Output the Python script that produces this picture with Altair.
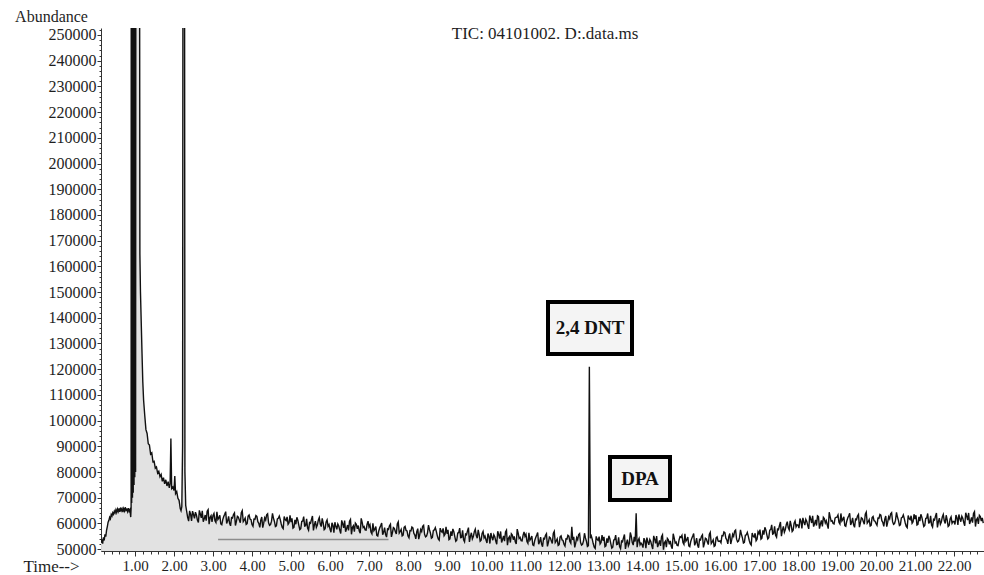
import altair as alt
import pandas as pd

# ---------------- data (abundance values in thousands) ----------------
early_t = [0.13, 0.15, 0.17, 0.19, 0.21, 0.23, 0.25, 0.27, 0.29, 0.31, 0.33, 0.35, 0.37, 0.39,
           0.41, 0.43, 0.45, 0.47, 0.49, 0.51, 0.53, 0.55, 0.57, 0.59, 0.61, 0.63, 0.65, 0.67,
           0.69, 0.71, 0.73, 0.75, 0.77, 0.79, 0.81, 0.83, 0.85, 0.87, 0.89, 0.90,
           0.905, 0.915, 0.925, 0.935, 0.945, 0.955, 0.965, 0.975, 0.985, 0.995, 1.005, 1.015, 1.025,
           1.04, 1.11,
           1.125, 1.14, 1.16, 1.18, 1.20, 1.22, 1.25, 1.28, 1.31, 1.34, 1.37, 1.40, 1.43, 1.46,
           1.49, 1.52, 1.55, 1.58, 1.61, 1.64, 1.67, 1.70, 1.73, 1.76, 1.79, 1.82, 1.85, 1.88,
           1.90, 1.92, 1.94, 1.97, 2.00, 2.02, 2.04, 2.07, 2.10, 2.13, 2.16, 2.18, 2.20, 2.22,
           2.235, 2.265, 2.28, 2.30]
early_k = [52.5, 53.8, 52.2, 54.6, 53.4, 55.8, 54.9, 57.3, 58.8, 60.5, 61.2, 62.4, 61.8, 63.5,
           62.9, 64.2, 63.6, 64.8, 64.1, 65.3, 64.3, 65.6, 64.7, 65.9, 64.5, 66.2, 65.0, 65.7,
           64.4, 65.8, 64.9, 66.3, 65.1, 65.5, 64.6, 66.0, 64.8, 65.4, 62.5, 66.0,
           400, 68, 400, 70, 400, 72, 400, 75, 400, 78, 400, 80, 400,
           400, 400,
           165, 150, 138, 126, 115, 108, 102, 96.5, 95, 91, 90.5, 87, 87.5, 84,
           84.2, 81.5, 82, 79.6, 80.3, 78.2, 79.1, 76.4, 77.8, 75.4, 77, 74.6, 76.3, 73.9,
           75.5, 93, 73.6, 74.2, 72.8, 78.5, 71.6, 72.4, 69.8, 69, 65.8, 65, 66.5, 90,
           400, 400, 80, 67]

# scans every 0.05 min from 2.35
scan_start = 2.35
scan_step = 0.05
scan_k = [
    62.4, 64.9, 61.0, 63.5, 64.4, 61.3, 65.1, 62.2, 60.7, 63.3, 64.8, 59.7, 63.0,
    63.1, 61.1, 64.5, 62.2, 59.8, 61.5, 63.6, 60.0, 62.8, 59.1, 62.1, 64.1, 60.8, 62.5, 60.3, 65.0, 61.3, 59.6, 62.9, 61.7,
    59.6, 61.7, 63.1, 60.7, 58.5, 62.5, 60.1, 61.4, 63.8, 59.3, 60.9, 62.1, 58.8, 61.8, 62.9, 59.8, 58.0, 61.5, 62.6, 60.3,
    60.5, 58.2, 61.4, 62.4, 59.4, 58.0, 60.9, 59.0, 61.8, 57.4, 60.1, 62.9, 59.5, 58.5, 61.3, 59.8, 62.0, 57.6, 60.6, 58.9,
    57.8, 60.3, 56.4, 58.9, 59.8, 57.4, 61.2, 58.3, 56.8, 59.4, 60.9, 55.8, 59.1, 60.2, 57.9, 57.1, 62.0, 58.4, 57.5, 59.6,
    58.7, 56.7, 60.1, 57.8, 55.4, 57.1, 59.2, 55.6, 58.4, 54.7, 57.7, 59.7, 56.4, 58.1, 55.9, 60.6, 56.9, 55.2, 58.5, 57.3,
    55.1, 57.2, 58.6, 56.2, 54.0, 58.0, 55.6, 56.9, 59.3, 54.8, 56.4, 57.6, 54.3, 57.3, 58.4, 55.3, 53.5, 57.0, 58.1, 55.8,
    56.0, 53.7, 56.9, 57.9, 54.9, 53.5, 56.4, 54.5, 57.3, 52.9, 55.6, 58.4, 55.0, 54.0, 56.8, 55.3, 57.5, 53.1, 56.1, 54.4,
    53.6, 56.1, 52.2, 54.7, 55.6, 53.2, 57.0, 54.1, 52.6, 55.2, 56.7, 51.6, 54.9, 56.0, 53.7, 52.9, 57.8, 54.2, 53.3, 55.4,
    55.0, 53.0, 56.4, 54.1, 51.7, 53.4, 55.5, 51.9, 54.7, 51.0, 54.0, 56.0, 52.7, 54.4, 52.2, 56.9, 53.2, 51.5, 54.8, 53.6,
    51.9, 54.0, 55.4, 53.0, 58.7, 54.8, 52.4, 53.7, 56.1, 51.6, 53.2, 54.4, 51.1, 121.0, 55.2, 52.1, 50.3, 53.8, 54.9, 52.6,
    53.3, 51.0, 54.2, 55.2, 52.2, 50.8, 53.7, 51.8, 54.6, 50.2, 52.9, 55.7, 52.3, 51.3, 56.5, 52.6, 54.8, 64.0, 53.4, 51.7,
    51.8, 54.3, 50.4, 52.9, 53.8, 51.4, 55.2, 52.3, 50.8, 53.4, 54.9, 49.8, 53.1, 54.2, 51.9, 51.1, 56.0, 52.4, 51.5, 53.6,
    54.6, 52.6, 56.0, 53.7, 51.3, 53.0, 55.1, 51.5, 54.3, 50.6, 53.6, 55.6, 52.3, 54.0, 51.8, 56.5, 52.8, 51.1, 54.4, 53.2,
    53.2, 55.3, 56.7, 54.3, 52.1, 56.1, 53.7, 55.0, 57.4, 52.9, 54.5, 55.7, 52.4, 55.4, 56.5, 53.4, 51.6, 55.1, 56.2, 53.9,
    56.0, 53.9, 57.3, 58.5, 55.7, 54.5, 57.6, 55.9, 58.9, 54.7, 57.6, 60.6, 57.4, 56.6, 59.6, 58.3, 61.0, 56.9, 60.1, 58.7,
    59.4, 61.9, 58.1, 60.6, 61.6, 59.2, 63.1, 60.2, 58.8, 61.4, 63.0, 58.0, 61.2, 62.4, 60.2, 59.5, 64.4, 60.9, 60.0, 62.1,
    62.5, 60.5, 63.9, 61.6, 59.2, 60.9, 63.0, 59.4, 62.2, 58.5, 61.5, 63.5, 60.2, 61.9, 59.7, 64.4, 60.7, 59.0, 62.3, 61.1,
    60.0, 62.1, 63.5, 61.1, 58.9, 62.9, 60.5, 61.8, 64.2, 59.7, 61.3, 62.5, 59.2, 62.2, 63.3, 60.2, 58.4, 61.9, 63.0, 60.7,
    61.7, 59.4, 62.6, 63.6, 60.6, 59.2, 62.1, 60.2, 63.0, 58.6, 61.3, 64.1, 60.7, 59.7, 62.5, 61.0, 63.2, 58.8, 61.8, 60.1,
    60.8, 63.3, 59.4, 61.9, 62.8, 60.4, 64.2, 61.3, 59.8, 62.4, 63.9, 58.8, 62.1, 63.2, 60.9, 60.1,
]

# intermediate scans every 0.05 min from 2.375
mid_start = 2.375
mid_k = [
    60.9, 63.6, 64.8, 62.0, 63.3, 60.4, 63.7, 64.9, 61.8, 61.1, 65.4, 62.3, 60.6,
    63.9, 60.4, 61.6, 63.2, 59.5, 62.7, 64.6, 61.0, 60.1, 62.3, 63.5, 59.2, 62.8, 61.3, 64.2, 60.7, 62.1, 59.9, 63.3, 61.5,
    58.9, 61.6, 62.8, 60.0, 61.3, 58.4, 62.2, 63.4, 60.3, 59.6, 63.9, 60.8, 59.1, 62.0, 61.5, 58.5, 62.7, 61.1, 59.7, 63.2,
    62.0, 58.5, 59.7, 61.3, 57.6, 60.8, 62.7, 59.1, 58.2, 60.4, 61.6, 57.3, 60.9, 59.4, 62.3, 58.8, 60.2, 58.0, 61.4, 59.6,
    56.6, 59.3, 60.5, 57.7, 59.0, 56.1, 59.9, 61.1, 58.0, 57.3, 61.6, 58.5, 56.8, 59.7, 59.2, 56.2, 60.4, 58.8, 57.4, 60.9,
    59.5, 56.0, 57.2, 58.8, 55.1, 58.3, 60.2, 56.6, 55.7, 57.9, 59.1, 54.8, 58.4, 56.9, 59.8, 56.3, 57.7, 55.5, 58.9, 57.1,
    54.4, 57.1, 58.3, 55.5, 56.8, 53.9, 57.7, 58.9, 55.8, 55.1, 59.4, 56.3, 54.6, 57.5, 57.0, 54.0, 58.2, 56.6, 55.2, 58.7,
    57.5, 54.0, 55.2, 56.8, 53.1, 56.3, 58.2, 54.6, 53.7, 55.9, 57.1, 52.8, 56.4, 54.9, 57.8, 54.3, 55.7, 53.5, 56.9, 55.1,
    52.4, 55.1, 56.3, 53.5, 54.8, 51.9, 55.7, 56.9, 53.8, 53.1, 57.4, 54.3, 52.6, 55.5, 55.0, 52.0, 56.2, 54.6, 53.2, 56.7,
    55.8, 52.3, 53.5, 55.1, 51.4, 54.6, 56.5, 52.9, 52.0, 54.2, 55.4, 51.1, 54.7, 53.2, 56.1, 52.6, 54.0, 51.8, 55.2, 53.4,
    51.2, 53.9, 55.1, 52.3, 53.6, 50.7, 54.5, 55.7, 52.6, 51.9, 56.2, 53.1, 51.4, 54.3, 53.8, 50.8, 55.0, 53.4, 52.0, 55.5,
    54.8, 51.3, 52.5, 54.1, 50.4, 53.6, 55.5, 51.9, 51.0, 53.2, 54.4, 50.1, 53.7, 52.2, 55.1, 51.6, 53.0, 50.8, 54.2, 52.4,
    50.6, 53.3, 54.5, 51.7, 53.0, 50.1, 53.9, 55.1, 52.0, 51.3, 55.6, 52.5, 50.8, 53.7, 53.2, 50.2, 54.4, 52.8, 51.4, 54.9,
    55.4, 51.9, 53.1, 54.7, 51.0, 54.2, 56.1, 52.5, 51.6, 53.8, 55.0, 50.7, 54.3, 52.8, 55.7, 52.2, 53.6, 51.4, 54.8, 53.0,
    52.5, 55.2, 56.4, 53.6, 54.9, 52.0, 55.8, 57.0, 53.9, 53.2, 57.5, 54.4, 52.7, 55.6, 55.1, 52.1, 56.3, 54.7, 53.3, 56.8,
    57.6, 54.3, 55.7, 57.5, 54.0, 57.4, 59.5, 56.1, 55.4, 57.8, 59.2, 55.1, 58.9, 57.6, 60.7, 57.5, 59.3, 57.4, 61.0, 59.5,
    58.2, 61.0, 62.2, 59.4, 60.8, 57.9, 61.8, 63.0, 59.9, 59.2, 62.7, 59.8, 58.9, 61.9, 61.1, 58.0, 62.6, 61.1, 59.8, 62.4,
    63.3, 59.8, 61.0, 62.6, 58.9, 62.1, 64.0, 60.4, 59.5, 61.7, 62.9, 58.6, 62.2, 60.7, 63.6, 60.1, 61.5, 59.3, 62.7, 60.9,
    59.3, 62.0, 63.2, 60.4, 61.7, 58.8, 62.6, 63.8, 60.7, 60.0, 64.3, 61.2, 59.5, 62.4, 61.9, 58.9, 63.1, 61.5, 60.1, 63.6,
    63.2, 59.7, 60.9, 62.5, 58.8, 62.0, 63.9, 60.3, 59.4, 61.6, 62.8, 58.5, 62.1, 60.6, 63.5, 60.0, 61.4, 59.2, 62.6, 60.8,
    59.6, 62.3, 63.5, 60.7, 62.0, 59.1, 62.9, 64.1, 61.0, 60.3, 64.6, 61.5, 59.8, 62.7, 62.2,
]

fill_end_t = 14.6                       # shaded (integrated) region ends here
marker_t = [3.13, 7.5]                  # grey baseline marker
marker_k = 53.8

title_text = "TIC: 04101002. D:.data.ms"
ann_labels = ["2,4 DNT", "DPA"]

# ---------------- build table ----------------
scan_t = [round(scan_start + scan_step * i, 3) for i in range(len(scan_k))]
mid_t = [round(mid_start + scan_step * i, 3) for i in range(len(mid_k))]
df = pd.DataFrame({"t": early_t + scan_t + mid_t,
                   "v": [k * 1000 for k in early_k + scan_k + mid_k]})
df = df.sort_values("t").reset_index(drop=True)

FONT = "Liberation Serif"
INK = "#1e1e1e"

x_scale = alt.Scale(domain=[0.128, 22.769], nice=False, zero=False)
y_scale = alt.Scale(domain=[49300, 252700], nice=False, zero=False)

x_ticks = [round(0.2 * i, 1) for i in range(1, 114)]
y_ticks = list(range(50000, 252001, 2000))
x_major = "abs(datum.value - round(datum.value)) < 0.001"
y_major = "datum.value % 10000 === 0"

x_axis = alt.Axis(
    values=x_ticks, tickCount=1000,
    labelExpr=f"{x_major} ? format(datum.value, '.2f') : ''",
    tickSize={"condition": {"test": x_major, "value": 5}, "value": 3},
    labelOverlap=False, labelFlush=False, grid=False,
    domainColor="#333", tickColor="#333",
    labelFont=FONT, labelFontSize=15, labelColor=INK, labelPadding=2,
    title="Time-->", titleFont=FONT, titleFontSize=17, titleFontWeight="normal",
    titleColor=INK, titleX=-50, titleY=15, titleAlign="center",
    titleBaseline="middle", titleAngle=0,
)
y_axis = alt.Axis(
    values=y_ticks, tickCount=1000,
    labelExpr=f"{y_major} ? format(datum.value, 'd') : ''",
    tickSize={"condition": {"test": y_major, "value": 4}, "value": 2},
    labelOverlap=False, labelFlush=False, grid=False,
    domainColor="#333", tickColor="#333",
    labelFont=FONT, labelFontSize=16, labelColor=INK, labelPadding=1,
    title="Abundance", titleFont=FONT, titleFontSize=16, titleFontWeight="normal",
    titleColor=INK, titleX=-50, titleY=-12, titleAlign="center",
    titleBaseline="middle", titleAngle=0,
)

area = alt.Chart(df).transform_filter(f"datum.t <= {fill_end_t}").mark_area(
    color="#e2e2e2", clip=True
).encode(
    x=alt.X("t:Q", scale=x_scale, axis=x_axis),
    y=alt.Y("v:Q", scale=y_scale, axis=y_axis),
    y2=alt.datum(49300),
)

marker = alt.Chart(pd.DataFrame({"t0": [marker_t[0]], "t1": [marker_t[1]], "v": [marker_k * 1000]})).mark_rule(
    color="#8c8c8c", strokeWidth=1.5
).encode(x="t0:Q", x2="t1:Q", y="v:Q")

line = alt.Chart(df).mark_line(color="#111111", strokeWidth=1.4, clip=True).encode(
    x="t:Q", y="v:Q"
)

title = alt.Chart(pd.DataFrame({"s": [title_text]})).mark_text(
    font=FONT, fontSize=17, color=INK, align="center", baseline="middle"
).encode(x=alt.value(444), y=alt.value(6), text="s:N")

box1 = alt.Chart(pd.DataFrame({"s": [ann_labels[0]]})).mark_rect(
    fill="#f4f4f4", stroke="#000", strokeWidth=4
).encode(x=alt.value(447), x2=alt.value(531), y=alt.value(274), y2=alt.value(326))
txt1 = alt.Chart(pd.DataFrame({"s": [ann_labels[0]]})).mark_text(
    font=FONT, fontSize=19, fontWeight="bold", color="#111", align="center", baseline="middle"
).encode(x=alt.value(489), y=alt.value(300), text="s:N")

box2 = alt.Chart(pd.DataFrame({"s": [ann_labels[1]]})).mark_rect(
    fill="#f4f4f4", stroke="#000", strokeWidth=4
).encode(x=alt.value(509), x2=alt.value(569), y=alt.value(429), y2=alt.value(472))
txt2 = alt.Chart(pd.DataFrame({"s": [ann_labels[1]]})).mark_text(
    font=FONT, fontSize=19, fontWeight="bold", color="#111", align="center", baseline="middle"
).encode(x=alt.value(539), y=alt.value(451), text="s:N")

chart = alt.layer(area, marker, line, title, box1, txt1, box2, txt2).properties(
    width=883, height=523,
    autosize=alt.AutoSizeParams(type="none"),
    padding={"left": 101, "top": 28, "right": 0, "bottom": 24},
    background="white",
).configure_view(stroke="transparent")

chart.save("out.html", embed_options={"renderer": "svg", "actions": False})
